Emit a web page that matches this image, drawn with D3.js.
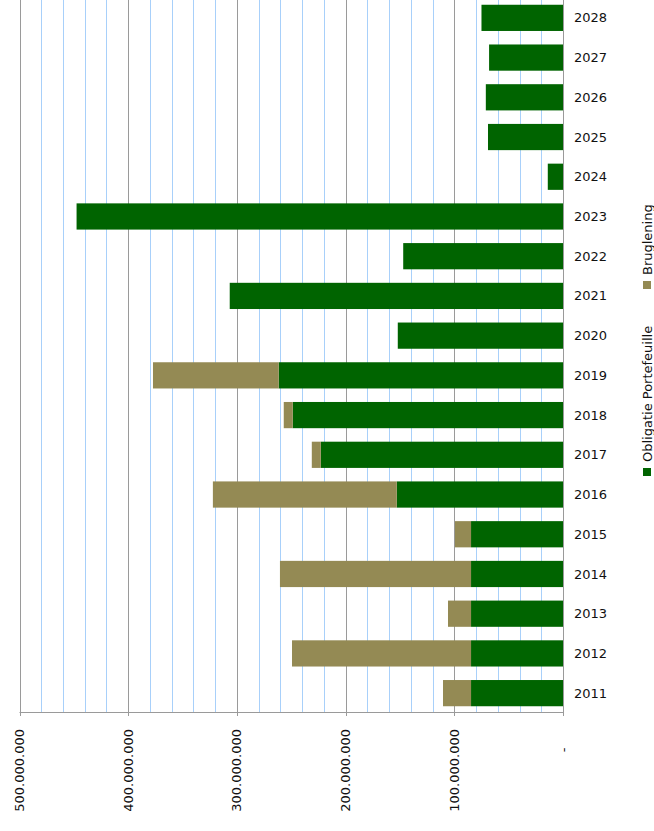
<!DOCTYPE html>
<meta charset="utf-8">
<script src="https://d3js.org/d3.v7.min.js"></script>
<style>
  body { margin: 0; background: #fff; }
  text { font-family: "DejaVu Sans", Verdana, sans-serif; }
</style>
<div id="chart"></div>
<script>

// data (euro)
const years = [2011, 2012, 2013, 2014, 2015, 2016, 2017, 2018, 2019, 2020,
               2021, 2022, 2023, 2024, 2025, 2026, 2027, 2028];
const obligatie = [84600000, 84600000, 84600000, 84600000, 84600000, 152900000,
                   222800000, 248600000, 261500000, 152000000, 306600000, 147000000,
                   447500000, 14000000, 69000000, 71000000, 68000000, 75000000];
const bruglening = [25800000, 164700000, 21200000, 175800000, 14800000, 169200000,
                    8300000, 8300000, 115700000, 0, 0, 0, 0, 0, 0, 0, 0, 0];
const seriesNames = ["Obligatie Portefeuille", "Bruglening"];
const colours = ["#006400", "#948A54"];
const majorTicks = [0, 100000000, 200000000, 300000000, 400000000, 500000000];

const width = 654, height = 831;
const x0 = 563, x1 = 19.5, yTop = -2, yBottom = 712;

const svg = d3.select("#chart").append("svg")
    .attr("width", width)
    .attr("height", height);

const x = d3.scaleLinear()
    .domain([0, 500000000])
    .range([x0, x1]);

const y = d3.scaleBand()
    .domain(years.slice().reverse())
    .range([yTop, yBottom + 1])
    .paddingInner(0.34)
    .paddingOuter(0.17);

// minor gridlines every 20 million
const minor = d3.range(20000000, 500000000, 20000000).filter(v => v % 100000000 !== 0);
svg.append("g")
  .selectAll("line")
  .data(minor)
  .join("line")
    .attr("x1", d => Math.round(x(d)) + 0.5)
    .attr("x2", d => Math.round(x(d)) + 0.5)
    .attr("y1", 0)
    .attr("y2", yBottom)
    .attr("stroke", "#a8d0fa")
    .attr("stroke-width", 1);

// major gridlines
svg.append("g")
  .selectAll("line")
  .data(majorTicks.slice(1))
  .join("line")
    .attr("x1", d => Math.round(x(d)) + 0.5)
    .attr("x2", d => Math.round(x(d)) + 0.5)
    .attr("y1", 0)
    .attr("y2", yBottom + 4)
    .attr("stroke", "#9a9a9a")
    .attr("stroke-width", 1);

// stacked bars
const table = years.map((yr, i) => ({year: yr, obligatie: obligatie[i], bruglening: bruglening[i]}));
const stacked = d3.stack().keys(["obligatie", "bruglening"])(table);

svg.append("g")
  .selectAll("g")
  .data(stacked)
  .join("g")
    .attr("fill", (d, i) => colours[i])
  .selectAll("rect")
  .data(d => d.filter(p => p[1] > p[0]))
  .join("rect")
    .attr("x", d => x(d[1]))
    .attr("width", d => x(d[0]) - x(d[1]))
    .attr("y", d => y(d.data.year))
    .attr("height", y.bandwidth());

// axis lines
svg.append("line")
    .attr("x1", x0 + 0.5).attr("x2", x0 + 0.5)
    .attr("y1", 0).attr("y2", yBottom + 4)
    .attr("stroke", "#9a9a9a");
svg.append("line")
    .attr("x1", x1).attr("x2", x0 + 1)
    .attr("y1", yBottom + 0.5).attr("y2", yBottom + 0.5)
    .attr("stroke", "#9a9a9a");

// year labels
svg.append("g")
  .selectAll("text")
  .data(years)
  .join("text")
    .attr("x", 574)
    .attr("y", d => y(d) + y.bandwidth() / 2)
    .attr("dy", "0.35em")
    .style("font-size", "13px")
    .attr("fill", "#111")
    .text(d => d);

// value axis labels, rotated
const nl = d3.formatLocale({decimal: ",", thousands: ".", grouping: [3], currency: ["€", ""]});
const fmt = nl.format(",");
svg.append("g")
  .selectAll("text")
  .data(majorTicks)
  .join("text")
    .attr("transform", d => d === 0
        ? `translate(${x(d)},750) rotate(-90)`
        : `translate(${x(d)},729) rotate(-90)`)
    .attr("text-anchor", d => d === 0 ? "middle" : "end")
    .attr("dy", "0.35em")
    .style("font-size", "13px")
    .attr("fill", "#111")
    .text(d => d === 0 ? "-" : fmt(d));

// legend, rotated
const legendPos = [476, 289];
const legend = svg.append("g")
  .selectAll("g")
  .data(seriesNames)
  .join("g")
    .attr("transform", (d, i) => `translate(647,${legendPos[i]}) rotate(-90)`);
legend.append("rect")
    .attr("x", 0)
    .attr("y", -4)
    .attr("width", 8)
    .attr("height", 8)
    .attr("fill", (d, i) => colours[i]);
legend.append("text")
    .attr("x", 14)
    .attr("dy", "0.35em")
    .style("font-size", "13px")
    .attr("fill", "#111")
    .text(d => d);

</script>
